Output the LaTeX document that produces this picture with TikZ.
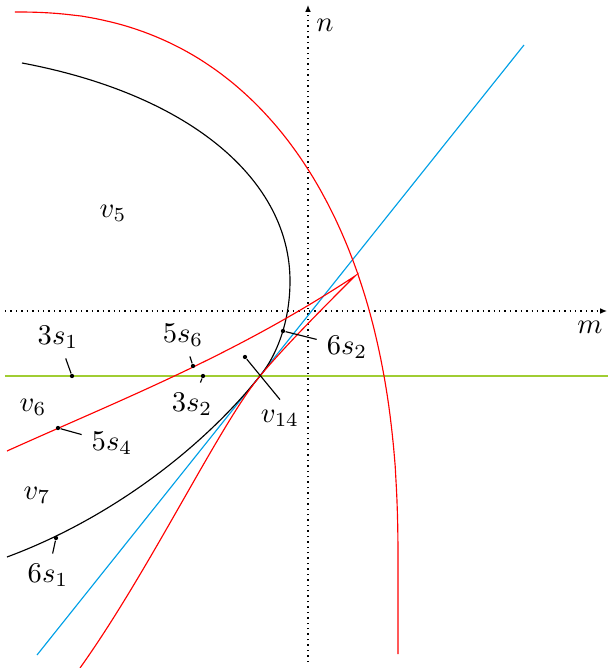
\documentclass[tikz,border=0pt]{standalone}
\usepackage{amsmath,amssymb}
\usepackage{tikz}
\usetikzlibrary{arrows.meta}
\usetikzlibrary{positioning}
\usepackage{xcolor}
\definecolor{cblue}{RGB}{0,160,230}
\definecolor{cgreen}{RGB}{160,205,50}

\begin{document}
\begin{tikzpicture}[x=0.35pt,y=0.35pt,
    axis/.style={dash pattern=on 0.5pt off 1.4pt,-{Latex[length=2.4pt,width=2pt]}},
    dotpt/.style={fill,circle,inner sep=0pt,minimum size=1.5pt},
    pinline/.style={black,line width=0.4pt}]
  \useasboundingbox (-308,-357) rectangle (300,311);

  % axes
  \coordinate (xl) at (-303,0);
  \coordinate (xr) at (299,0);
  \coordinate (yb) at (0,-351);
  \coordinate (yt) at (0,306);
  \draw[axis] (xl) -- (xr);
  \draw[axis] (yb) -- (yt);
  \node (m) at (282,-16) {$m$};
  \node (n) at (17,286) {$n$};

  % lines
  \coordinate (gl) at (-303,-65);
  \coordinate (gr) at (300,-65);
  \draw[cgreen] (gl) -- (gr);
  \coordinate (bl) at (-271,-344);
  \coordinate (br) at (216,266);
  \draw[cblue] (bl) -- (br);

  % curves
  \coordinate (touch) at (-48,-65);
  \coordinate (cusp) at (47,35);
  \draw[black] (-286,248) .. controls (-116,216) and (-18,130) .. (-18,30)
    .. controls (-18,-5) and (-28,-40) .. (touch)
    .. controls (-108,-140) and (-201,-209) .. (-301,-246);
  \draw[red] (-293,299) -- plot[domain=89.5:0.5,samples=90]
    ({-293+383*pow(cos(\x),0.87)},{-250+549*pow(sin(\x),0.87)}) -- (90,-343);
  \draw[red] (-301,-140) .. controls (-181,-86) and (-73,-44) .. (cusp)
    .. controls (17,5) and (-23,-35) .. (touch)
    .. controls (-88,-113) and (-158,-259) .. (-228,-357);

  % regions
  \node (v5) at (-195,98) {$v_5$};
  \node (v6) at (-275,-96) {$v_6$};
  \node (v7) at (-271,-184) {$v_7$};

  % marked points
  \node[dotpt] (p3s1) at (-236,-65) {};
  \node (l3s1) at (-250,-26) {$3s_1$};
  \draw[pinline] (p3s1) -- (l3s1);

  \node[dotpt] (p5s6) at (-115,-55) {};
  \node (l5s6) at (-125,-24) {$5s_6$};
  \draw[pinline] (p5s6) -- (l5s6);

  \node[dotpt] (p3s2) at (-105,-65) {};
  \node (l3s2) at (-116,-93) {$3s_2$};
  \draw[pinline] (p3s2) -- (l3s2);

  \node[dotpt] (p5s4) at (-250,-117) {};
  \node (l5s4) at (-196,-132) {$5s_4$};
  \draw[pinline] (p5s4) -- (l5s4);

  \node[dotpt] (p6s1) at (-252,-227) {};
  \node (l6s1) at (-260,-264) {$6s_1$};
  \draw[pinline] (p6s1) -- (l6s1);

  \node[dotpt] (p6s2) at (-25,-20) {};
  \node (l6s2) at (39,-36) {$6s_2$};
  \draw[pinline] (p6s2) -- (l6s2);

  \node[dotpt] (pv14) at (-63,-46) {};
  \node (lv14) at (-28,-107) {$v_{14}$};
  \draw[pinline] (pv14) -- (lv14.north);
\end{tikzpicture}
\end{document}
